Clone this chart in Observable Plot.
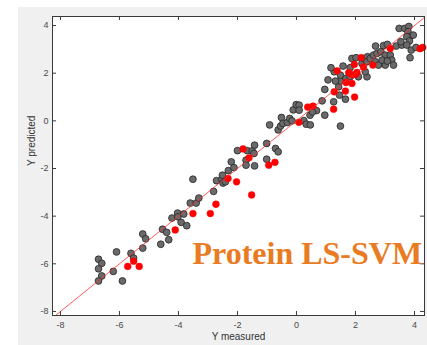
<!DOCTYPE html>
<html>
<head>
<meta charset="utf-8">
<script src="https://cdn.jsdelivr.net/npm/d3@7"></script>
<script src="https://cdn.jsdelivr.net/npm/@observablehq/plot@0.6"></script>
<style>
  html, body { margin: 0; padding: 0; background: #fff; }
  #wrap { position: relative; width: 427px; height: 345px; background: #fff; overflow: hidden; }
  #figbg { position: absolute; left: 18px; top: 7px; right: 0; bottom: 0; background: #f0f0f0; }
  #chart { position: absolute; left: 0; top: 0; }
</style>
</head>
<body>
<div id="wrap"><div id="figbg"></div><div id="chart"></div></div>
<script>
// Tick values
const xTicks = [-8, -6, -4, -2, 0, 2, 4];
const yTicks = [-8, -6, -4, -2, 0, 2, 4];

// Training (gray) points: measured vs predicted
const grayX = [-6.71,-6.60,-6.71,-6.60,-6.71,-6.21,-6.10,-5.90,-5.61,-5.52,-5.21,-5.21,-5.11,-4.60,-4.54,-4.40,-4.33,-4.22,-4.03,-4.02,
  -3.91,-3.82,-3.72,-3.60,-3.40,-3.31,-3.51,-2.81,-2.71,-2.53,-2.49,-2.41,-2.51,-2.31,-2.21,-2.12,-2.00,-1.71,-1.71,-1.67,
  -1.50,-1.42,-1.44,-1.42,-1.01,-1.01,-0.71,-0.62,-0.91,-0.62,-0.54,-0.51,-0.46,-0.31,-0.23,-0.15,0.25,0.33,0.47,0.46,
  0.68,-0.11,-0.01,0.09,0.09,1.49,0.96,0.87,1.26,1.66,1.46,0.96,1.07,1.43,1.49,1.49,1.28,1.17,1.68,1.82,
  2.10,2.39,2.33,1.58,1.88,2.02,2.22,2.27,2.41,2.39,2.50,2.61,2.67,2.73,2.86,3.01,3.18,3.23,3.29,2.95,
  2.78,3.01,2.90,3.08,2.68,2.95,3.08,3.38,3.57,3.48,3.67,3.81,3.78,3.85,3.96,3.74,3.83,3.54,3.74,3.89,
  3.85,4.05,1.82,1.32,0.54];
const grayY = [-5.81,-5.98,-6.21,-6.51,-6.72,-6.32,-5.50,-6.72,-5.56,-5.76,-5.34,-4.75,-4.95,-5.18,-4.55,-4.68,-4.99,-4.08,-3.87,-4.03,
  -4.26,-3.91,-4.40,-3.45,-3.45,-3.24,-2.45,-2.96,-2.51,-2.45,-2.61,-2.56,-2.28,-2.09,-1.72,-1.96,-1.25,-1.65,-1.86,-1.25,
  -1.26,-1.02,-1.37,-1.89,-0.95,-1.61,-1.16,-1.30,-0.17,-0.38,-0.22,0.14,-0.11,-0.07,0.10,0.00,0.01,-0.14,-0.17,0.24,
  0.43,0.46,0.68,0.66,0.45,-0.22,0.24,0.84,0.80,0.91,1.08,1.32,1.72,1.43,1.67,1.92,2.06,2.23,1.78,1.85,
  1.85,1.85,2.06,2.30,2.62,2.65,2.41,2.62,2.69,2.48,2.62,2.76,2.48,2.83,2.90,2.76,2.76,2.55,2.34,2.41,
  2.34,2.34,2.55,2.51,3.14,3.16,3.21,3.14,3.18,3.88,3.88,3.96,3.74,3.54,3.60,3.53,3.35,3.32,3.18,2.97,
  2.65,3.08,2.23,1.67,0.37];

// Test (red) points
const redX = [-5.72,-5.52,-5.33,-4.11,-3.51,-2.92,-2.73,-2.32,-2.03,-1.52,-1.81,-1.61,-0.94,-0.73,0.08,0.38,0.56,1.26,
  1.28,1.66,1.97,1.68,1.88,1.38,1.77,2.05,2.00,1.89,2.19,1.96,2.27,2.59,3.18,4.19,4.28];
const redY = [-6.11,-5.89,-6.11,-4.58,-3.89,-3.89,-3.50,-2.42,-2.56,-3.11,-1.18,-1.55,-1.86,-1.74,-0.06,0.58,0.62,0.49,
  1.22,1.25,1.00,1.61,1.57,2.10,2.02,2.03,1.95,1.93,2.65,2.37,2.26,2.34,3.04,3.03,3.08];

// Identity line end values
const lineVals = [-8.4, 4.5];

const gray = grayX.map((x, i) => ({x, y: grayY[i]}));
const red = redX.map((x, i) => ({x, y: redY[i]}));
const diag = lineVals.map(v => ({x: v, y: v}));

const W = 427, H = 345, mL = 52, mR = 3, mT = 16, mB = 30;
const pw = W - mL - mR, ph = H - mT - mB;
const axisColor = "#3a3a3a";
const fmt = d => String(d);

const chart = Plot.plot({
  width: W, height: H,
  marginLeft: mL, marginRight: mR, marginTop: mT, marginBottom: mB,
  x: {domain: [-8.27, 4.34]},
  y: {domain: [-8.17, 4.38]},
  style: {background: "transparent", fontFamily: "'Liberation Sans', Arial, sans-serif", overflow: "visible"},
  marks: [
    Plot.frame({fill: "white", stroke: null}),
    Plot.dot(gray, {x: "x", y: "y", r: 3.4, fill: "#6a6a6a", stroke: "#262626", strokeWidth: 0.8}),
    Plot.dot(red, {x: "x", y: "y", r: 3.4, fill: "#ff0000", stroke: "#ff0000", strokeWidth: 0.5}),
    Plot.line(diag, {x: "x", y: "y", stroke: "#ff3030", strokeWidth: 0.8, clip: true}),
    Plot.tickX(xTicks, {x: d => d, insetTop: ph - 4, stroke: axisColor}),
    Plot.tickX(xTicks, {x: d => d, insetBottom: ph - 4, stroke: axisColor}),
    Plot.tickY(yTicks, {y: d => d, insetRight: pw - 4, stroke: axisColor}),
    Plot.tickY(yTicks, {y: d => d, insetLeft: pw - 4, stroke: axisColor}),
    Plot.axisX(xTicks, {tickSize: 0, tickPadding: 6, tickFormat: fmt, label: null, fontSize: 9, fill: "#4a4a4a"}),
    Plot.axisY(yTicks, {tickSize: 0, tickPadding: 4, tickFormat: fmt, label: null, fontSize: 9, fill: "#4a4a4a"}),
    Plot.frame({stroke: axisColor, strokeWidth: 1}),
    Plot.text(["Y measured"], {frameAnchor: "bottom", dy: 24.5, fontSize: 10, fill: "#333"}),
    Plot.text(["Y predicted"], {frameAnchor: "left", dx: -21, rotate: -90, fontSize: 10, fill: "#333"}),
    Plot.text(["Protein LS-SVM"], {x: 4.26, y: -5.58, textAnchor: "end", lineAnchor: "middle",
      fontFamily: "'Liberation Serif', 'Times New Roman', serif", fontWeight: "bold", fontSize: 32, fill: "#e97b22"})
  ]
});
document.getElementById("chart").appendChild(chart);
</script>
</body>
</html>
